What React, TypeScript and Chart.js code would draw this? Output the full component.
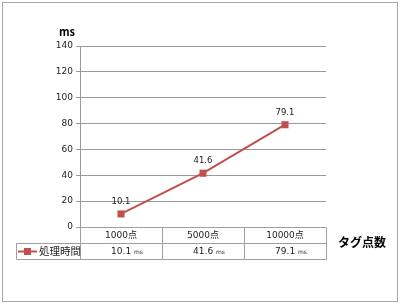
import React, { useEffect, useRef } from "react";
import { Chart, registerables } from "chart.js";

Chart.register(...registerables);

const categories = ["1000点", "5000点", "10000点"];
const seriesName = "処理時間";
const values = [10.1, 41.6, 79.1];
const unit = "ms";
const yTitle = "ms";
const xTitle = "タグ点数";
const yMin = 0;
const yMax = 140;
const yStep = 20;

const RED = "#C0504D";
const GRID = "#9A9A9A";
const TABLE = "#A0A0A0";
const TEXT = "#222222";
const FONT = "'DejaVu Sans', 'Noto Sans CJK JP', sans-serif";
const JFONT = "'Noto Sans CJK JP', 'DejaVu Sans', sans-serif";

const extrasPlugin = {
  id: "extras",
  afterDatasetsDraw(chart: any) {
    const ctx = chart.ctx;
    const meta = chart.getDatasetMeta(0);
    ctx.save();
    ctx.fillStyle = TEXT;
    ctx.font = `8.5px ${FONT}`;
    ctx.textAlign = "center";
    ctx.textBaseline = "alphabetic";
    meta.data.forEach((pt: any, i: number) => {
      ctx.fillText(String(values[i]), pt.x, pt.y - 10);
    });
    ctx.restore();
  },
  afterDraw(chart: any) {
    const ctx = chart.ctx;
    const area = chart.chartArea;
    const xs = chart.scales.x;
    const top = area.bottom;
    const rowH = 16;
    const mid = top + rowH;
    const bot = top + rowH * 2;
    const legendLeft = 16;
    ctx.save();
    // outer border
    ctx.strokeStyle = "#A6A6A6";
    ctx.lineWidth = 1;
    ctx.strokeRect(2.5, 2.5, 395, 299);

    // table lines
    ctx.strokeStyle = TABLE;
    ctx.beginPath();
    const left = Math.round(area.left) + 0.5;
    const right = Math.round(area.right) + 0.5;
    ctx.moveTo(left, Math.round(top) + 0.5);
    ctx.lineTo(right, Math.round(top) + 0.5);
    ctx.moveTo(legendLeft + 0.5, Math.round(mid) + 0.5);
    ctx.lineTo(right, Math.round(mid) + 0.5);
    ctx.moveTo(legendLeft + 0.5, Math.round(bot) + 0.5);
    ctx.lineTo(right, Math.round(bot) + 0.5);
    const n = categories.length;
    const w = (area.right - area.left) / n;
    for (let i = 0; i <= n; i++) {
      const x = Math.round(area.left + w * i) + 0.5;
      ctx.moveTo(x, Math.round(top) + 0.5);
      ctx.lineTo(x, Math.round(bot) + 0.5);
    }
    ctx.moveTo(legendLeft + 0.5, Math.round(mid) + 0.5);
    ctx.lineTo(legendLeft + 0.5, Math.round(bot) + 0.5);
    ctx.stroke();

    // category labels
    ctx.fillStyle = TEXT;
    ctx.textAlign = "center";
    ctx.textBaseline = "middle";
    ctx.font = `9px ${FONT}`;
    categories.forEach((c, i) => {
      const x = xs.getPixelForValue(i);
      ctx.fillText(c, x, top + rowH / 2 + 0.5);
    });

    // values row
    categories.forEach((_, i) => {
      const x = xs.getPixelForValue(i) + 6;
      const vText = String(values[i]) + " ";
      ctx.font = `9px ${FONT}`;
      const w1 = ctx.measureText(vText).width;
      ctx.font = `6px ${FONT}`;
      const w2 = ctx.measureText(unit).width;
      const start = x - (w1 + w2) / 2;
      ctx.textAlign = "left";
      ctx.font = `9px ${FONT}`;
      ctx.fillText(vText, start, mid + rowH / 2 + 0.5);
      ctx.font = `6px ${FONT}`;
      ctx.fillText(unit, start + w1, mid + rowH / 2 + 1);
    });

    // legend key
    const ly = Math.round(mid + rowH / 2) + 0.5;
    ctx.strokeStyle = RED;
    ctx.lineWidth = 2;
    ctx.beginPath();
    ctx.moveTo(18, ly);
    ctx.lineTo(37, ly);
    ctx.stroke();
    ctx.fillStyle = RED;
    ctx.fillRect(24, ly - 3.5, 7, 7);
    ctx.fillStyle = TEXT;
    ctx.textAlign = "left";
    ctx.font = `10.5px ${JFONT}`;
    ctx.fillText(seriesName, 39, ly);

    // axis titles
    ctx.font = `bold 11px ${JFONT}`;
    ctx.textAlign = "center";
    ctx.fillStyle = "#000";
    ctx.fillText(yTitle, 67, 32);
    ctx.font = `bold 12px ${JFONT}`;
    ctx.fillText(xTitle, 362, 242);
    ctx.restore();
  },
};

export default function App() {
  const ref = useRef<HTMLCanvasElement | null>(null);
  useEffect(() => {
    document.body.style.margin = "0";
    const canvas = ref.current!;
    const chart = new Chart(canvas, {
      type: "line",
      data: {
        labels: categories,
        datasets: [
          {
            label: seriesName,
            data: values,
            borderColor: RED,
            backgroundColor: RED,
            borderWidth: 2,
            pointStyle: "rect",
            pointRadius: 5,
            pointBackgroundColor: RED,
            pointBorderColor: RED,
            pointBorderWidth: 0,
            tension: 0,
          },
        ],
      },
      options: {
        responsive: false,
        animation: false,
        layout: { padding: { left: 0, right: 74, top: 46, bottom: 77 } },
        plugins: {
          legend: { display: false },
          tooltip: { enabled: false },
          title: { display: false },
        },
        scales: {
          x: {
            type: "category",
            offset: true,
            display: false,
          },
          y: {
            min: yMin,
            max: yMax,
            ticks: {
              stepSize: yStep,
              color: TEXT,
              font: { family: FONT, size: 9 },
              padding: 3,
            },
            grid: {
              color: GRID,
              tickLength: 4,
              drawTicks: true,
            },
            border: { color: GRID },
            afterFit: (scale: any) => {
              scale.width = 80;
            },
          },
        },
      },
      plugins: [extrasPlugin],
    });
    return () => chart.destroy();
  }, []);
  return (
    <div style={{ width: 400, height: 304, background: "#fff" }}>
      <canvas ref={ref} width={400} height={304} style={{ display: "block" }} />
    </div>
  );
}
